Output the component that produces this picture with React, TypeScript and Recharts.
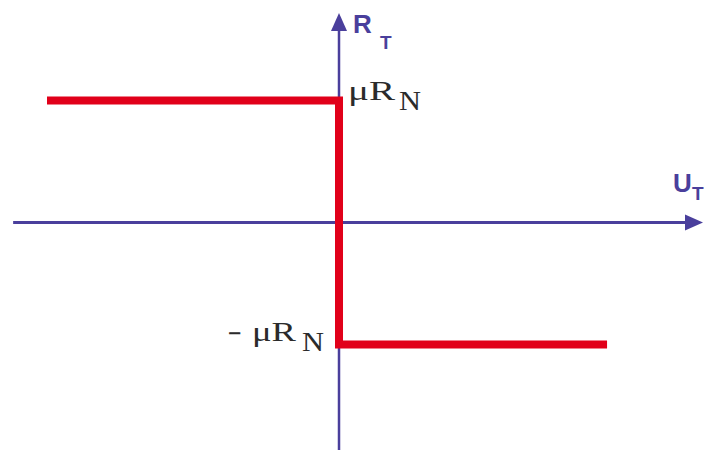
import { LineChart, Line, XAxis, YAxis, ReferenceLine, ReferenceDot } from "recharts";

// friction characteristic: R_T = +muR_N for U_T < 0, -muR_N for U_T > 0
const slipSpeed = [-5, 0, 0, 4.59];
const frictionForce = [1, 1, -1, -1];

const uDomain = [-5.805, 6.25];
const rDomain = [-1.865, 1.824];

const axisColor = "#4a3f9c";
const curveColor = "#e1001a";
const textColor = "#2b2b2b";

const data = slipSpeed.map((u, i) => ({ u, r: frictionForce[i] }));

const ArrowAxis = (props: any) => {
  const { x1, y1, x2, y2, name, sub, dx, dy, subDx, subDy, width } = props;
  const len = Math.hypot(x2 - x1, y2 - y1);
  const ux = (x2 - x1) / len;
  const uy = (y2 - y1) / len;
  const head = 18;
  const half = 8;
  const bx = x2 - ux * head;
  const by = y2 - uy * head;
  const pts = `${x2},${y2} ${bx - uy * half},${by + ux * half} ${bx + uy * half},${by - ux * half}`;
  return (
    <g>
      <line x1={x1} y1={y1} x2={bx + ux * 2} y2={by + uy * 2} stroke={axisColor} strokeWidth={width} />
      <polygon points={pts} fill={axisColor} />
      <text x={x2 + dx} y={y2 + dy} fill={axisColor} fontFamily="Liberation Sans, Arial, sans-serif" fontWeight="bold" fontSize={26}>
        {name}
      </text>
      <text x={x2 + subDx} y={y2 + subDy} fill={axisColor} fontFamily="Liberation Sans, Arial, sans-serif" fontWeight="bold" fontSize={19}>
        {sub}
      </text>
    </g>
  );
};

const ForceLabel = (props: any) => {
  const { cx, cy, negative } = props;
  const serif = "Liberation Serif, Times New Roman, serif";
  if (negative) {
    return (
      <g fill={textColor} fontFamily={serif}>
        <text x={cx - 112} y={cy - 3} fontSize={24} fontFamily="DejaVu Sans, sans-serif" textLength={15} lengthAdjust="spacingAndGlyphs">
          −
        </text>
        <text x={cx - 87} y={cy - 3} fontSize={28} textLength={44} lengthAdjust="spacingAndGlyphs">
          μR
        </text>
        <text x={cx - 37} y={cy + 7} fontSize={28} textLength={22} lengthAdjust="spacingAndGlyphs">
          N
        </text>
      </g>
    );
  }
  return (
    <g fill={textColor} fontFamily={serif}>
      <text x={cx + 9} y={cy - 1} fontSize={28} textLength={47} lengthAdjust="spacingAndGlyphs">
        μR
      </text>
      <text x={cx + 60} y={cy + 9} fontSize={28} textLength={22} lengthAdjust="spacingAndGlyphs">
        N
      </text>
    </g>
  );
};

export default function App() {
  return (
    <div style={{ position: "absolute", left: 0, top: 0, background: "#fff" }}>
      <LineChart width={704} height={450} data={data} margin={{ top: 0, right: 0, bottom: 0, left: 0 }}>
        <XAxis type="number" dataKey="u" domain={uDomain} allowDataOverflow hide />
        <YAxis type="number" domain={rDomain} allowDataOverflow hide />
        <ReferenceLine
          ifOverflow="visible"
          segment={[{ x: -5.58, y: 0 }, { x: 6.233, y: 0 }]}
          shape={(p: any) => <ArrowAxis {...p} width={3} name="U" sub="T" dx={-30} dy={-30} subDx={-11} subDy={-22} />}
        />
        <ReferenceLine
          ifOverflow="visible"
          segment={[{ x: 0, y: -1.865 }, { x: 0, y: 1.718 }]}
          shape={(p: any) => <ArrowAxis {...p} width={2.5} name="R" sub="T" dx={14} dy={20} subDx={41} subDy={36} />}
        />
        <Line
          type="linear"
          dataKey="r"
          stroke={curveColor}
          strokeWidth={8}
          strokeLinejoin="miter"
          strokeLinecap="butt"
          dot={false}
          activeDot={false}
          isAnimationActive={false}
        />
        <ReferenceDot x={0} y={1} ifOverflow="visible" shape={(p: any) => <ForceLabel {...p} />} />
        <ReferenceDot x={0} y={-1} ifOverflow="visible" shape={(p: any) => <ForceLabel {...p} negative />} />
      </LineChart>
    </div>
  );
}
